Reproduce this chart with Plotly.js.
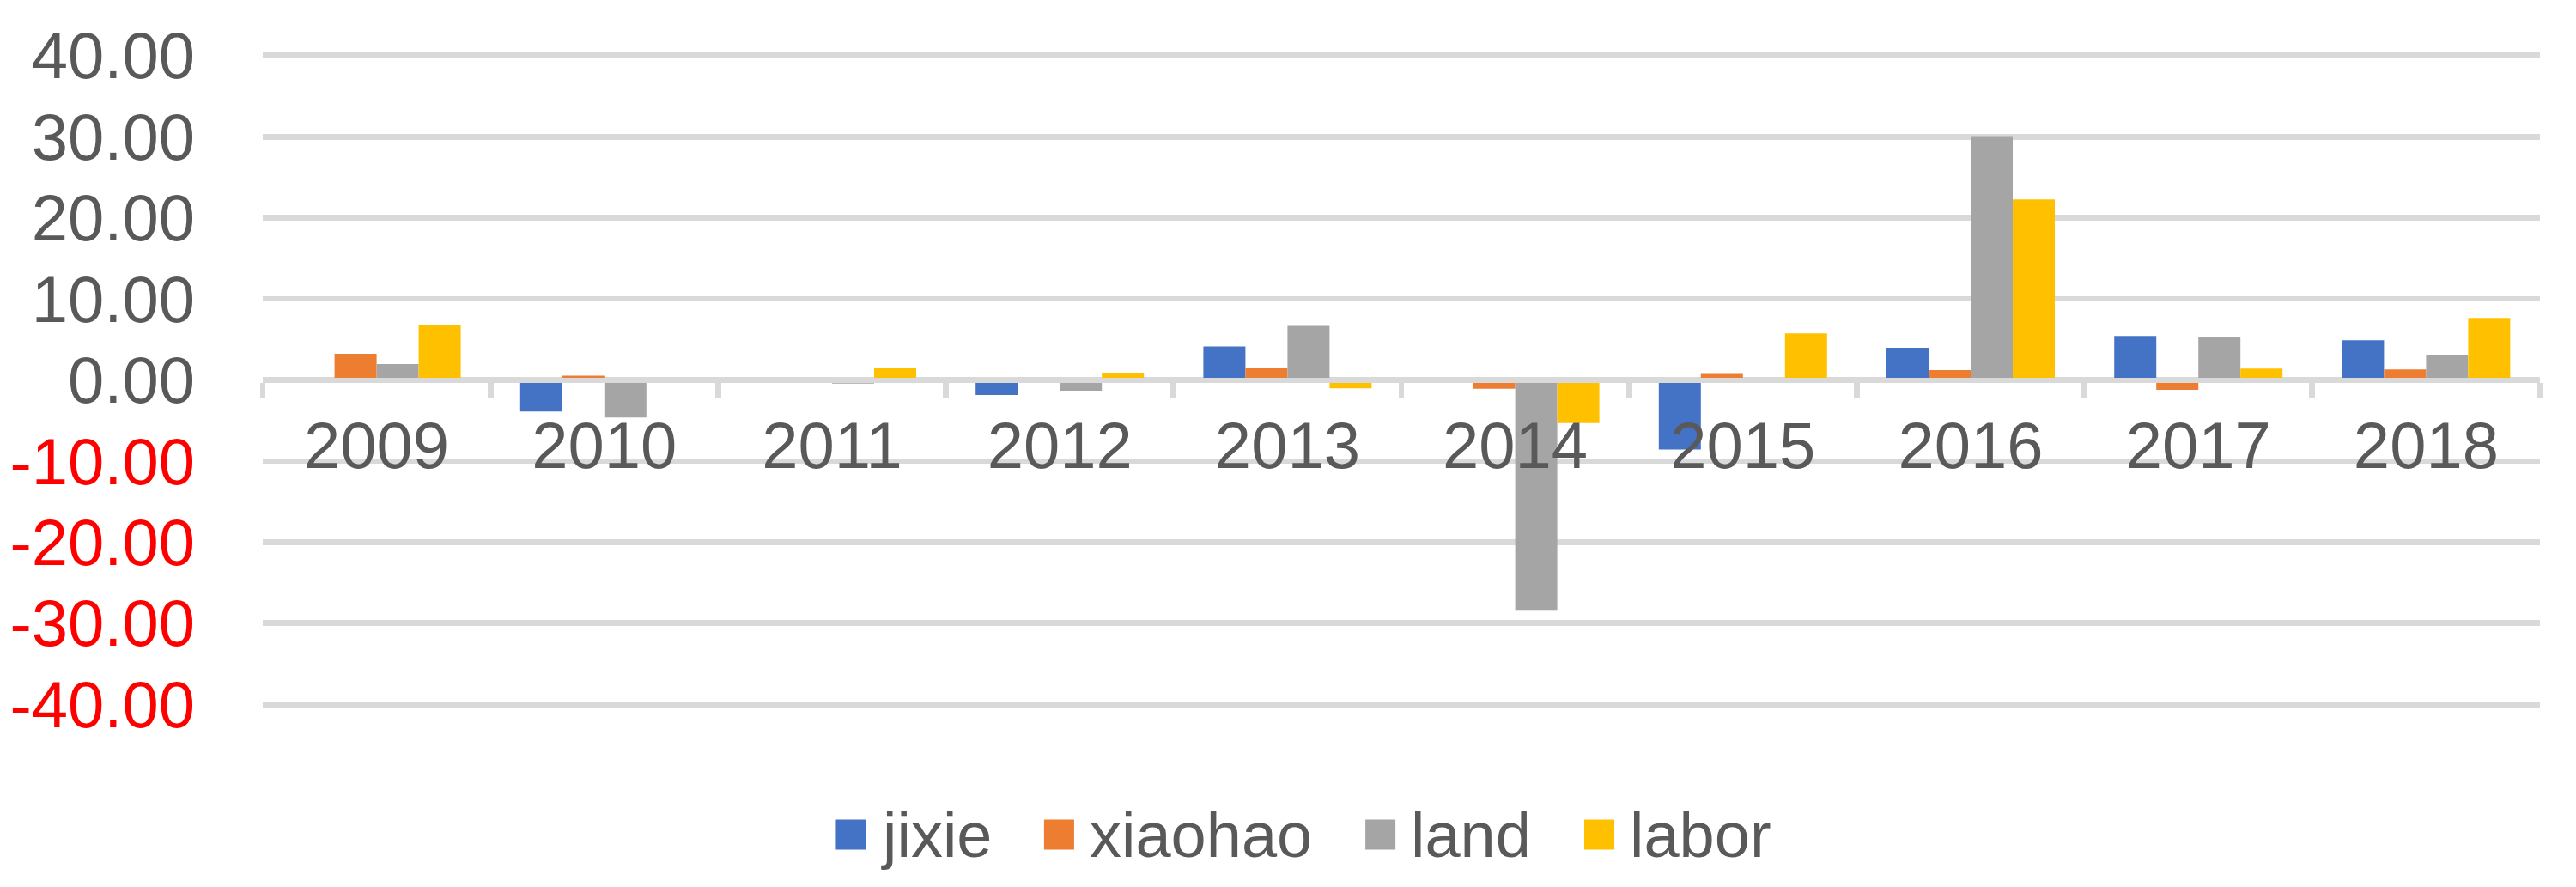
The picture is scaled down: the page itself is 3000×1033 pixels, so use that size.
<!DOCTYPE html>
<html>
<head>
<meta charset="utf-8">
<script src="https://cdn.plot.ly/plotly-3.0.1.min.js"></script>
<style>html,body{margin:0;padding:0;background:#fff;}#chart{width:3000px;height:1033px;}</style>
</head>
<body>
<div id="chart"></div>
<script>
// ---- data ----
var years = ['2009','2010','2011','2012','2013','2014','2015','2016','2017','2018'];
var seriesNames = ['jixie','xiaohao','land','labor'];
var jixie   = [0, -3.88, 0, -1.85, 4.12, 0, -8.57, 3.97, 5.43, 4.90];
var xiaohao = [3.23, 0.53, 0, 0, 1.47, -1.08, 0.85, 1.22, -1.23, 1.30];
var land    = [1.96, -4.63, -0.45, -1.32, 6.67, -28.35, 0, 30.09, 5.33, 3.10];
var labor   = [6.80, 0, 1.53, 0.90, -1.04, -5.31, 5.74, 22.26, 1.41, 7.65];
var yTickVals = [-40, -30, -20, -10, 0, 10, 20, 30, 40];
var colors = ['#4472C4', '#ED7D31', '#A5A5A5', '#FFC000'];

// ---- layout constants ----
var W = 3000, H = 1033;
var M = {l: 306, r: 42, t: 62, b: 210};
var plotW = W - M.l - M.r, plotH = H - M.t - M.b;
var FONT = 'Liberation Sans, Arial, sans-serif';
var TXT = '#595959';

var values = [jixie, xiaohao, land, labor];
var traces = values.map(function (v, i) {
  return {type: 'bar', name: seriesNames[i], x: years, y: v,
          marker: {color: colors[i], line: {width: 0}}, showlegend: false,
          hoverinfo: 'x+y+name'};
});

var yTickText = yTickVals.map(function (v) {
  var s = v.toFixed(2);
  return v < 0 ? '<span style="color:#FF0000">' + s + '</span>' : s;
});

// ---- custom legend (Excel-like large squares) ----
var legFontSize = 74;
var cv = document.createElement('canvas').getContext('2d');
cv.font = legFontSize + 'px ' + FONT;
var sq = 35, gapText = 18, gapItem = 62;
var widths = seriesNames.map(function (n) { return cv.measureText(n).width; });
var total = 0;
widths.forEach(function (w, i) { total += sq + gapText + w + (i < widths.length - 1 ? gapItem : 0); });
var legCenterPx = 1518, legCyPx = 972;
var xpx = legCenterPx - total / 2;
var shapes = [], annotations = [];
function px2x(p) { return (p - M.l) / plotW; }
function py2y(p) { return (H - M.b - p) / plotH; }
seriesNames.forEach(function (n, i) {
  shapes.push({type: 'rect', xref: 'paper', yref: 'paper',
    x0: px2x(xpx), x1: px2x(xpx + sq), y0: py2y(legCyPx + sq / 2), y1: py2y(legCyPx - sq / 2),
    fillcolor: colors[i], line: {width: 0}});
  annotations.push({xref: 'paper', yref: 'paper', x: px2x(xpx + sq + gapText - 2), y: py2y(legCyPx),
    xanchor: 'left', yanchor: 'middle', showarrow: false, text: n,
    font: {family: FONT, size: legFontSize, color: TXT}});
  xpx += sq + gapText + widths[i] + gapItem;
});

var layout = {
  width: W, height: H,
  margin: M,
  paper_bgcolor: '#ffffff', plot_bgcolor: '#ffffff',
  barmode: 'group', bargap: 0.261, bargroupgap: 0,
  showlegend: false,
  font: {family: FONT, color: TXT},
  xaxis: {
    type: 'category', anchor: 'free', position: 0.5,
    showgrid: false, zeroline: false,
    showline: true, linecolor: '#D9D9D9', linewidth: 6.7,
    ticks: 'outside', tickson: 'boundaries', ticklen: 17, tickwidth: 6.7, tickcolor: '#D9D9D9',
    ticklabelstandoff: 8,
    tickfont: {family: FONT, size: 76, color: TXT},
    layer: 'above traces', automargin: false, fixedrange: true
  },
  yaxis: {
    range: [-40.3, 40.3], showgrid: true, gridcolor: '#D9D9D9', gridwidth: 6.7,
    zeroline: false, showline: false, ticks: '',
    tickmode: 'array', tickvals: yTickVals, ticktext: yTickText,
    ticklabelstandoff: 78,
    tickfont: {family: FONT, size: 76, color: TXT},
    automargin: false, fixedrange: true
  },
  shapes: shapes,
  annotations: annotations
};

Plotly.newPlot('chart', traces, layout, {displayModeBar: false, staticPlot: true});
</script>
</body>
</html>
